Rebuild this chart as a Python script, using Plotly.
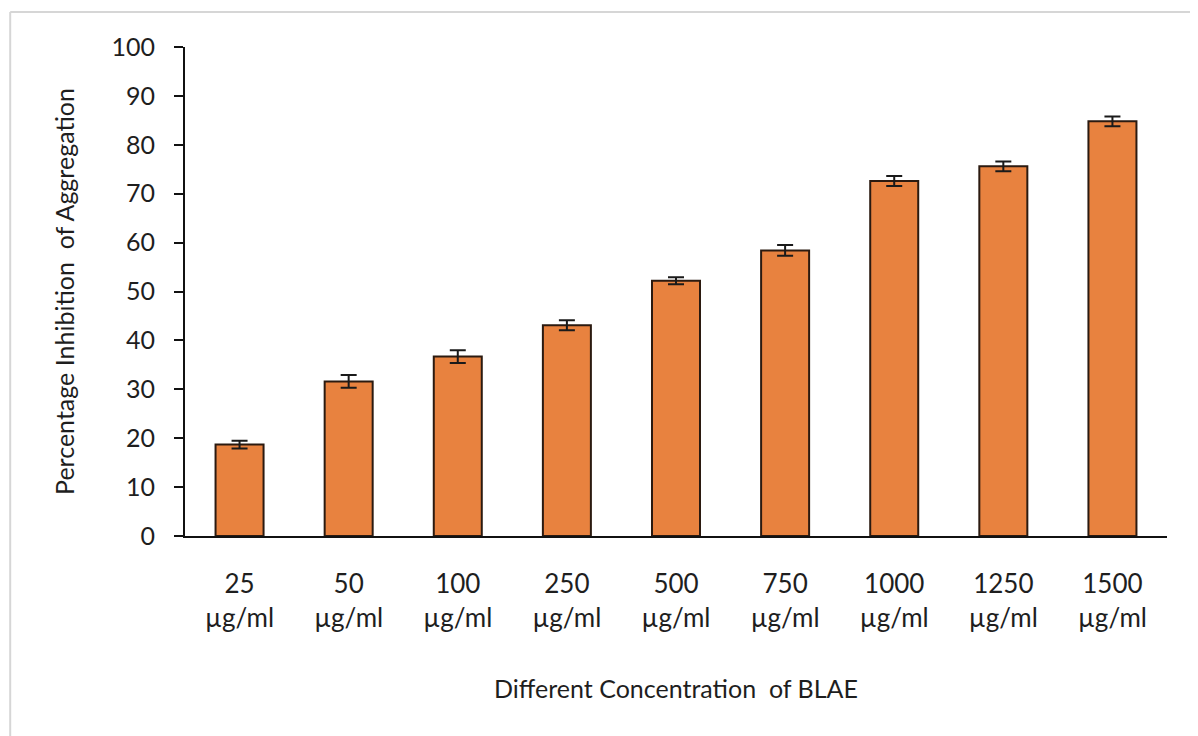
import plotly.graph_objects as go

categories = ["25<br>µg/ml", "50<br>µg/ml", "100<br>µg/ml", "250<br>µg/ml", "500<br>µg/ml",
              "750<br>µg/ml", "1000<br>µg/ml", "1250<br>µg/ml", "1500<br>µg/ml"]
inhibition = [18.7, 31.6, 36.7, 43.1, 52.2, 58.4, 72.6, 75.6, 84.8]
errors = [0.8, 1.3, 1.3, 1.0, 0.7, 1.1, 1.0, 1.0, 1.0]
y_ticks = [0, 10, 20, 30, 40, 50, 60, 70, 80, 90, 100]

FONT = "Lato, Carlito, Calibri, 'Liberation Sans', sans-serif"

fig = go.Figure()
fig.add_trace(go.Bar(
    x=categories, y=inhibition,
    marker=dict(color="#e8823f", line=dict(color="#2b1a10", width=2)),
    error_y=dict(type="data", array=errors, visible=True, color="#1a1a1a",
                 thickness=2, width=8),
    showlegend=False,
))

fig.update_layout(
    width=1198, height=736,
    paper_bgcolor="white", plot_bgcolor="white",
    margin=dict(l=177, r=39, t=39, b=208),
    bargap=0.56,
    font=dict(family=FONT, size=24, color="#1e1e1e"),
    xaxis=dict(
        showline=True, linecolor="#111111", linewidth=2,
        ticks="", showgrid=False, tickfont=dict(size=26),
        ticklabelstandoff=24,
        title=dict(text="Different Concentration  of BLAE", font=dict(size=25), standoff=48),
    ),
    yaxis=dict(
        range=[0, 100], tickvals=y_ticks, showline=True, linecolor="#111111", linewidth=2,
        ticks="outside", ticklen=9, tickwidth=2, tickcolor="#111111",
        showgrid=False, zeroline=False, tickfont=dict(size=25),
        ticklabelstandoff=14,
        title=dict(text="Percentage Inhibition  of Aggregation", font=dict(size=25), standoff=30),
    ),
    shapes=[
        dict(type="line", xref="paper", yref="paper", x0=-0.178, x1=1.04, y0=1.0716, y1=1.0716,
             line=dict(color="#d6d6d6", width=2)),
        dict(type="line", xref="paper", yref="paper", x0=-0.178, x1=-0.178, y0=-0.43, y1=1.0716,
             line=dict(color="#d6d6d6", width=2)),
    ],
)

fig.write_html("out.html")
